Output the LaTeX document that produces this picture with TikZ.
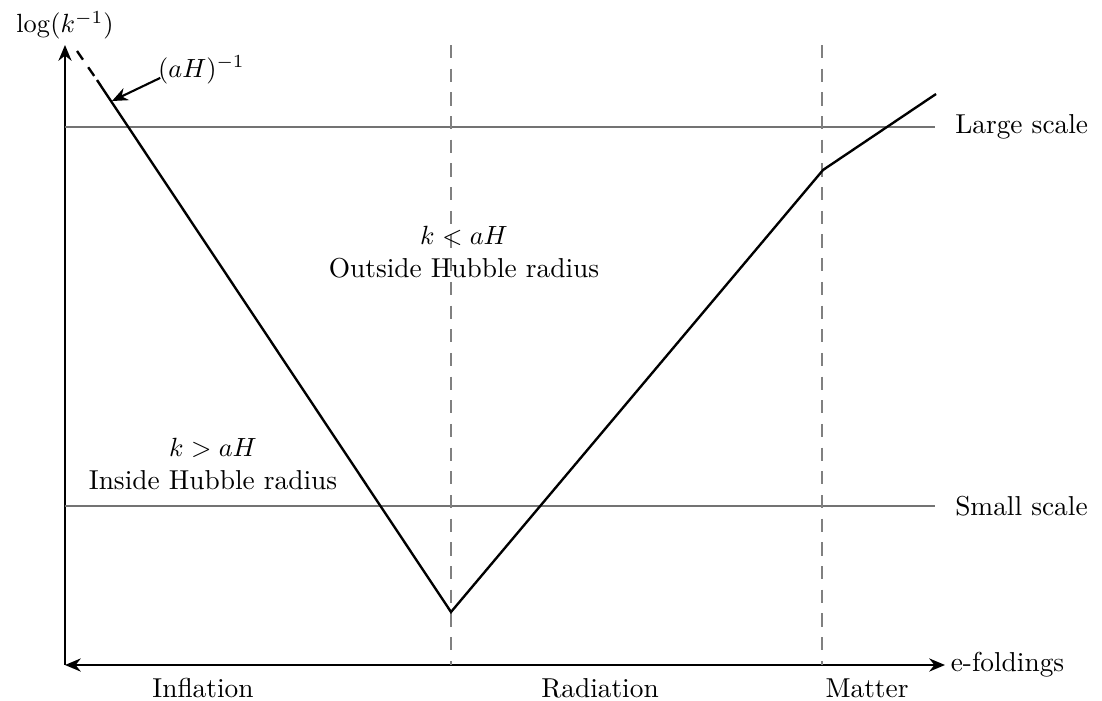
\documentclass[tikz,border=0pt]{standalone}
\usepackage{tikz}
\usetikzlibrary{positioning, arrows.meta, calc}
\usepackage{amsmath}

\begin{document}
\begin{tikzpicture}[
    x=0.38pt, y=-0.38pt,
    font=\fontsize{10.4}{12.6}\selectfont,
    axis/.style={thick, draw=black},
    arr/.style={-{Stealth[length=6pt, width=5pt]}, thick, draw=black},
    scaleline/.style={draw=black!55, line width=0.8pt},
    epoch/.style={draw=black!50, dashed, line width=0.8pt, dash pattern=on 5pt off 4pt},
    horizon/.style={draw=black, line width=0.9pt},
    lbl/.style={inner sep=1pt},
    region/.style={align=center, inner sep=1pt}
]
    \useasboundingbox (0,0) rectangle (1102,700);

    % axes
    \coordinate (origin) at (65,665);
    \coordinate (ytop) at (65,45);
    \coordinate (xend) at (945,665);
    \draw[axis, -{Stealth[length=6pt, width=5pt]}] (origin) -- (ytop);
    \draw[axis, {Stealth[length=6pt, width=5pt]}-{Stealth[length=6pt, width=5pt]}] (origin) -- (xend);
    \node[lbl, above=1pt of ytop] (ylab) {$\log(k^{-1})$};
    \node[lbl, right=1pt of xend] (xlab) {e-foldings};

    % scales
    \coordinate (ls0) at (65,127);
    \coordinate (ls1) at (935,127);
    \coordinate (ss0) at (65,506);
    \coordinate (ss1) at (935,506);
    \draw[scaleline] (ls0) -- (ls1);
    \draw[scaleline] (ss0) -- (ss1);
    \node[lbl, right=6.5pt of ls1] (large) {Large scale};
    \node[lbl, right=6.5pt of ss1] (small) {Small scale};

    % epochs
    \coordinate (e1top) at (451,45);
    \coordinate (e1bot) at (451,665);
    \coordinate (e2top) at (822,45);
    \coordinate (e2bot) at (822,665);
    \draw[epoch] (e1top) -- (e1bot);
    \draw[epoch] (e2top) -- (e2bot);
    \node[lbl] (infl) at (203,688) {Inflation};
    \node[lbl] (rad) at (600,688) {Radiation};
    \node[lbl] (mat) at (867,688) {Matter};

    % comoving Hubble radius
    \coordinate (h0) at (77,51);
    \coordinate (h1) at (97,80);
    \coordinate (hmin) at (451,612);
    \coordinate (heq) at (823,170);
    \coordinate (hend) at (936,94);
    \draw[horizon, dashed, dash pattern=on 4pt off 3.5pt] (h0) -- (h1);
    \draw[horizon] (h1) -- (hmin) -- (heq) -- (hend);

    \node[lbl, anchor=west] (aH) at (155,70) {$(aH)^{-1}$};
    \coordinate (aHtip) at (112,101);
    \draw[arr] (aH.west) ++(2pt,-3pt) -- (aHtip);

    % regions
    \node[region] (outside) at (464,252) {$k<aH$\\Outside Hubble radius};
    \node[region] (inside) at (213,464) {$k>aH$\\Inside Hubble radius};
\end{tikzpicture}
\end{document}
